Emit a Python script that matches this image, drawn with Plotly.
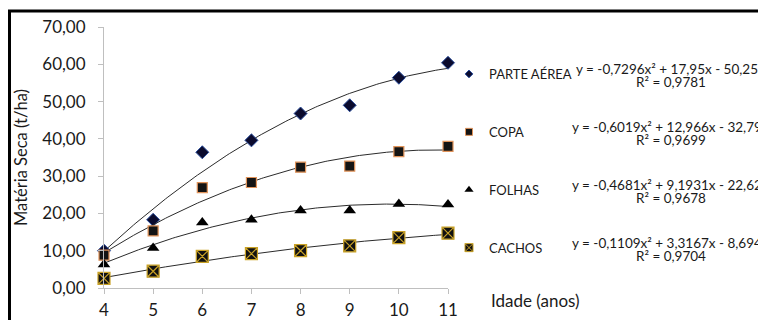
import numpy as np
import plotly.graph_objects as go

# Dry matter (t/ha) by plantation age (years)
idade = [4, 5, 6, 7, 8, 9, 10, 11]
parte_aerea = [10.0, 18.3, 36.4, 39.6, 46.8, 49.0, 56.4, 60.4]
copa = [8.8, 15.3, 26.9, 28.3, 32.4, 32.7, 36.6, 38.0]
folhas = [6.3, 10.7, 17.6, 18.3, 20.8, 20.8, 22.5, 22.4]
cachos = [2.6, 4.5, 8.5, 9.2, 10.0, 11.3, 13.5, 14.7]

series_names = ["PARTE AÉREA", "COPA", "FOLHAS", "CACHOS"]
series_values = [parte_aerea, copa, folhas, cachos]

# Quadratic trend lines  y = a·x² + b·x + c
coef_a = [-0.7296, -0.6019, -0.4681, -0.1109]
coef_b = [17.95, 12.966, 9.1931, 3.3167]
coef_c = [-50.253, -32.795, -22.629, -8.6942]
eq_labels = [
    "y = -0,7296x² + 17,95x - 50,253",
    "y = -0,6019x² + 12,966x - 32,795",
    "y = -0,4681x² + 9,1931x - 22,629",
    "y = -0,1109x² + 3,3167x - 8,6942",
]
r2_labels = ["R² = 0,9781", "R² = 0,9699", "R² = 0,9678", "R² = 0,9704"]

y_ticks = [0, 10, 20, 30, 40, 50, 60, 70]

FONT = "Lato"
TXT = "#1a1a1a"

markers = [
    dict(symbol="diamond", size=10, color="#0b0b2e", line=dict(color="#2a4d9c", width=1)),
    dict(symbol="square", size=10, color="#141414", line=dict(color="#e0935a", width=1.2)),
    dict(symbol="triangle-up", size=11, color="#000000", line=dict(color="#000000", width=0)),
    dict(symbol="square-x", size=12, color="#111111", line=dict(color="#c9a227", width=1.2)),
]
legend_markers = [
    dict(symbol="diamond", size=6, color="#0b0b2e", line=dict(color="#2a4d9c", width=1)),
    dict(symbol="square", size=7, color="#141414", line=dict(color="#e0935a", width=1)),
    dict(symbol="triangle-up", size=8, color="#000000", line=dict(width=0)),
    dict(symbol="square-x", size=8, color="#111111", line=dict(color="#c9a227", width=1)),
]

fig = go.Figure()
x_fit = np.linspace(idade[0], idade[-1], 141)

for i, name in enumerate(series_names):
    y_fit = coef_a[i] * x_fit ** 2 + coef_b[i] * x_fit + coef_c[i]
    fig.add_trace(go.Scatter(
        x=x_fit, y=y_fit, mode="lines",
        line=dict(color="#2b2b2b", width=1),
        showlegend=False, hoverinfo="skip", cliponaxis=False,
    ))
    fig.add_trace(go.Scatter(
        x=idade, y=series_values[i], mode="markers", name=name,
        marker=markers[i], showlegend=False, cliponaxis=False,
    ))
    # legend entry with a small swatch
    fig.add_trace(go.Scatter(
        x=[None], y=[None], mode="markers", name=name,
        marker=legend_markers[i], legendgroup=name, showlegend=True,
    ))

# plot area geometry (pixels) used for placing annotations
L, R, T, B = 104, 310, 27, 32
W, H = 758 - L - R, 320 - T - B

def px_x(p):
    return (p - L) / W

def px_y(p):
    return (320 - B - p) / H

legend_rows = [72, 130, 188, 246]
for i in range(4):
    fig.add_annotation(
        x=px_x(671), y=px_y(legend_rows[i] - 3), xref="paper", yref="paper",
        text=eq_labels[i], showarrow=False, xanchor="center", yanchor="middle",
        font=dict(family=FONT, size=13.5, color=TXT), borderpad=0,
    )
    fig.add_annotation(
        x=px_x(671), y=px_y(legend_rows[i] + 10), xref="paper", yref="paper",
        text=r2_labels[i], showarrow=False, xanchor="center", yanchor="middle",
        font=dict(family=FONT, size=13.5, color=TXT), borderpad=0,
    )

fig.add_annotation(
    x=px_x(489), y=px_y(300), xref="paper", yref="paper",
    text="Idade (anos)", showarrow=False, xanchor="left", yanchor="middle",
    font=dict(family=FONT, size=17, color=TXT),
)

# outer chart frame (top and left edges)
frame = dict(color="#000000", width=3)
fig.add_shape(type="line", xref="paper", yref="paper",
              x0=px_x(8), x1=px_x(790), y0=px_y(11), y1=px_y(11), line=frame)
fig.add_shape(type="line", xref="paper", yref="paper",
              x0=px_x(9.5), x1=px_x(9.5), y0=px_y(10), y1=px_y(340), line=frame)

fig.update_layout(
    width=758, height=320,
    margin=dict(l=L, r=R, t=T, b=B, autoexpand=False),
    paper_bgcolor="white", plot_bgcolor="white",
    separators=", ",
    font=dict(family=FONT, size=15, color=TXT),
    legend=dict(
        x=px_x(449), y=px_y(59), xanchor="left", yanchor="top",
        font=dict(family=FONT, size=13, color=TXT),
        tracegroupgap=38, bgcolor="rgba(0,0,0,0)", traceorder="grouped",
    ),
    xaxis=dict(
        range=[idade[0], idade[-1]], tickvals=idade,
        showline=True, linecolor="#bfbfbf", linewidth=1,
        ticks="outside", ticklen=5, tickcolor="#bfbfbf",
        showgrid=False, zeroline=False, ticklabelstandoff=2,
        automargin=False,
        tickfont=dict(family=FONT, size=17, color=TXT),
    ),
    yaxis=dict(
        range=[0, 70], tickvals=y_ticks, tickformat=".2f",
        showline=True, linecolor="#bfbfbf", linewidth=1,
        ticks="outside", ticklen=5, tickcolor="#bfbfbf",
        showgrid=False, zeroline=False, ticklabelstandoff=9,
        automargin=False,
        tickfont=dict(family=FONT, size=17, color=TXT),
        title=dict(text="Matéria Seca (t/ha)", standoff=10,
                   font=dict(family=FONT, size=16.5, color=TXT)),
    ),
)

fig.write_html("out.html")
